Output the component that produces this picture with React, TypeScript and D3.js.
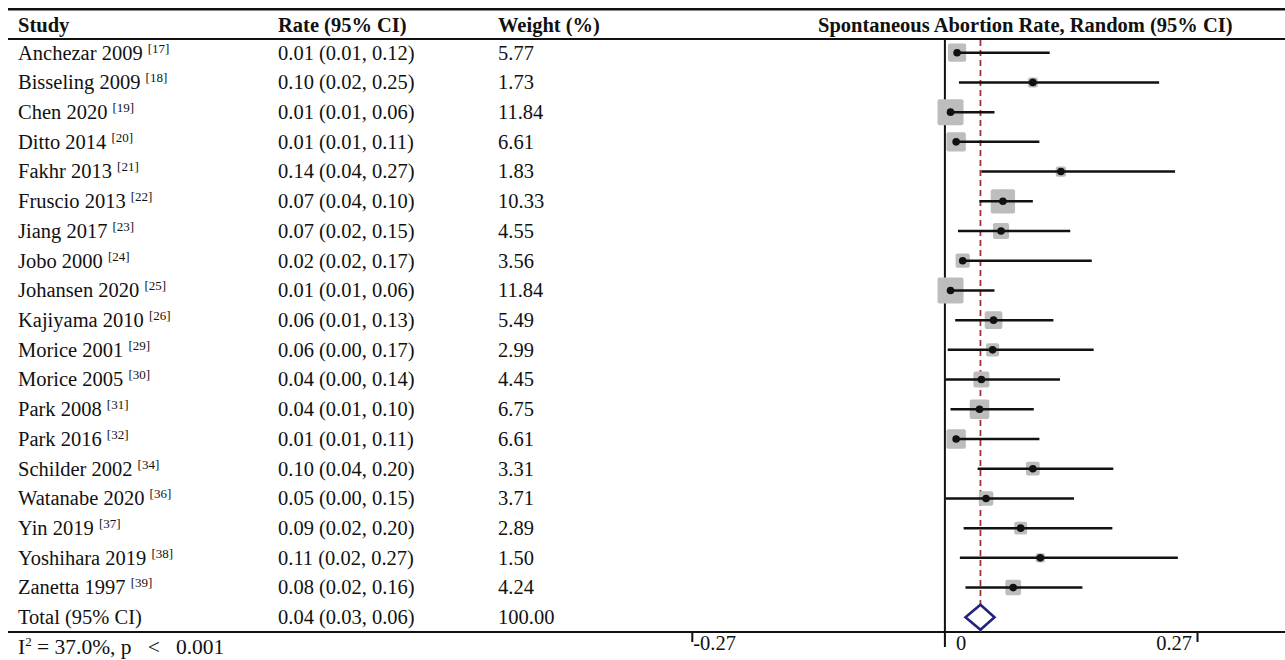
import React from 'react';
import * as d3 from 'd3';

const studies = ['Anchezar 2009', 'Bisseling 2009', 'Chen 2020', 'Ditto 2014', 'Fakhr 2013', 'Fruscio 2013', 'Jiang 2017', 'Jobo 2000', 'Johansen 2020', 'Kajiyama 2010', 'Morice 2001', 'Morice 2005', 'Park 2008', 'Park 2016', 'Schilder 2002', 'Watanabe 2020', 'Yin 2019', 'Yoshihara 2019', 'Zanetta 1997'];
const refs = ['[17]', '[18]', '[19]', '[20]', '[21]', '[22]', '[23]', '[24]', '[25]', '[26]', '[29]', '[30]', '[31]', '[32]', '[34]', '[36]', '[37]', '[38]', '[39]'];
const rateLabels = ['0.01 (0.01, 0.12)', '0.10 (0.02, 0.25)', '0.01 (0.01, 0.06)', '0.01 (0.01, 0.11)', '0.14 (0.04, 0.27)', '0.07 (0.04, 0.10)', '0.07 (0.02, 0.15)', '0.02 (0.02, 0.17)', '0.01 (0.01, 0.06)', '0.06 (0.01, 0.13)', '0.06 (0.00, 0.17)', '0.04 (0.00, 0.14)', '0.04 (0.01, 0.10)', '0.01 (0.01, 0.11)', '0.10 (0.04, 0.20)', '0.05 (0.00, 0.15)', '0.09 (0.02, 0.20)', '0.11 (0.02, 0.27)', '0.08 (0.02, 0.16)'];
const weightLabels = ['5.77', '1.73', '11.84', '6.61', '1.83', '10.33', '4.55', '3.56', '11.84', '5.49', '2.99', '4.45', '6.75', '6.61', '3.31', '3.71', '2.89', '1.50', '4.24'];
const weights = [5.77, 1.73, 11.84, 6.61, 1.83, 10.33, 4.55, 3.56, 11.84, 5.49, 2.99, 4.45, 6.75, 6.61, 3.31, 3.71, 2.89, 1.5, 4.24];
// plotted positions
const est = [0.013, 0.094, 0.006, 0.012, 0.124, 0.062, 0.060, 0.019, 0.006, 0.052, 0.051, 0.039, 0.037, 0.012, 0.094, 0.044, 0.081, 0.102, 0.073];
const lo = [0.013, 0.015, 0.006, 0.012, 0.039, 0.037, 0.014, 0.019, 0.006, 0.011, 0.003, 0.001, 0.006, 0.012, 0.035, 0.001, 0.020, 0.016, 0.022];
const hi = [0.112, 0.229, 0.053, 0.101, 0.246, 0.094, 0.134, 0.157, 0.053, 0.116, 0.159, 0.123, 0.095, 0.101, 0.180, 0.138, 0.179, 0.249, 0.147];

const totalName = 'Total (95% CI)';
const totalRate = '0.04 (0.03, 0.06)';
const totalWeight = '100.00';
const pooled = { est: 0.038, lo: 0.022, hi: 0.053 };

const headers = ['Study', 'Rate (95% CI)', 'Weight (%)', 'Spontaneous Abortion Rate, Random (95% CI)'];
const heteroText = ' = 37.0%, p\u00a0\u00a0\u00a0<\u00a0\u00a0\u00a00.001';
const tickValues = [-0.27, 0, 0.27];
const tickLabels = ['-0.27', '0', '0.27'];

const W = 1285;
const H = 660;
const FONT = '"Liberation Serif", "Times New Roman", serif';

export default function App() {
  const x = d3.scaleLinear().domain([-0.27, 0.27]).range([692.3, 1197.5]);
  const rows = [...studies, totalName];
  const y = d3.scalePoint<string>().domain(rows).range([52.7, 617.3]);
  const box = d3.scaleSqrt().domain([0, 11.84]).range([0, 26]);
  const fs = 20.5;
  const fsHead = 20.5;
  const fsSup = 13;
  const colStudy = 18;
  const colRate = 278;
  const colWeight = 498;
  const axisY = 632;
  const zx = x(0);
  const ty = (name: string) => (y(name) as number) + 6.8;

  const diamond = d3.line()([
    [x(pooled.lo), y(totalName) as number],
    [x(pooled.est), (y(totalName) as number) - 12.5],
    [x(pooled.hi), y(totalName) as number],
    [x(pooled.est), (y(totalName) as number) + 12.5],
  ]) + 'Z';

  return (
    <svg width={W} height={H} style={{ position: 'absolute', left: 0, top: 0 }} fontFamily={FONT}>
      <rect width={W} height={H} fill="#fff" />
      {/* rules */}
      <line x1={8} x2={W} y1={9.3} y2={9.3} stroke="#111" strokeWidth={2.6} />
      <line x1={8} x2={W} y1={39} y2={39} stroke="#111" strokeWidth={2.2} />
      <line x1={8} x2={W} y1={axisY} y2={axisY} stroke="#111" strokeWidth={2.2} />

      {/* headers */}
      <g fontWeight="bold" fontSize={fsHead} fill="#111">
        <text x={colStudy} y={32}>{headers[0]}</text>
        <text x={colRate} y={32}>{headers[1]}</text>
        <text x={colWeight} y={32}>{headers[2]}</text>
        <text x={818} y={32}>{headers[3]}</text>
      </g>

      {/* table text */}
      <g fontSize={fs} fill="#111">
        {studies.map((s, i) => (
          <text key={s} x={colStudy} y={ty(s)}>
            {s + ' '}
            <tspan fontSize={fsSup} dy={-7}>{refs[i]}</tspan>
          </text>
        ))}
        {studies.map((s, i) => (
          <text key={s + 'r'} x={colRate} y={ty(s)}>{rateLabels[i]}</text>
        ))}
        {studies.map((s, i) => (
          <text key={s + 'w'} x={colWeight} y={ty(s)}>{weightLabels[i]}</text>
        ))}
        <text x={colStudy} y={ty(totalName)}>{totalName}</text>
        <text x={colRate} y={ty(totalName)}>{totalRate}</text>
        <text x={colWeight} y={ty(totalName)}>{totalWeight}</text>
        <text x={colStudy} y={654} fontSize={21.5}>
          I<tspan fontSize={fsSup} dy={-8}>2</tspan>
          <tspan dy={8}>{heteroText}</tspan>
        </text>
      </g>

      {/* zero line */}
      <line x1={zx} x2={zx} y1={39} y2={647} stroke="#111" strokeWidth={2} />
      {/* pooled dashed line */}
      <line x1={x(pooled.est)} x2={x(pooled.est)} y1={40} y2={axisY} stroke="#a3313a" strokeWidth={1.8} strokeDasharray="6,4" />

      {/* study marks */}
      {studies.map((s, i) => {
        const cy = y(s) as number;
        const side = box(weights[i]);
        return (
          <g key={s + 'm'}>
            <rect x={x(est[i]) - side / 2} y={cy - side / 2} width={side} height={side} rx={2} fill="#bdbdbd" />
            <line x1={x(lo[i])} x2={x(hi[i])} y1={cy} y2={cy} stroke="#111" strokeWidth={2.5} />
            <circle cx={x(est[i])} cy={cy} r={3.8} fill="#111" />
          </g>
        );
      })}

      {/* pooled diamond */}
      <path d={diamond} fill="#fff" stroke="#23237a" strokeWidth={2.6} strokeLinejoin="miter" />

      {/* axis ticks */}
      {tickValues.map((v, i) => (
        <g key={tickLabels[i]}>
          {v !== 0 && <line x1={x(v)} x2={x(v)} y1={axisY} y2={axisY + 10} stroke="#111" strokeWidth={2} />}
          <text
            x={v < 0 ? x(v) + 1 : v > 0 ? x(v) - 5.5 : x(v) + 11}
            y={axisY + 18}
            fontSize={fs}
            textAnchor={v > 0 ? 'end' : 'start'}
            fill="#111"
          >
            {tickLabels[i]}
          </text>
        </g>
      ))}
    </svg>
  );
}
